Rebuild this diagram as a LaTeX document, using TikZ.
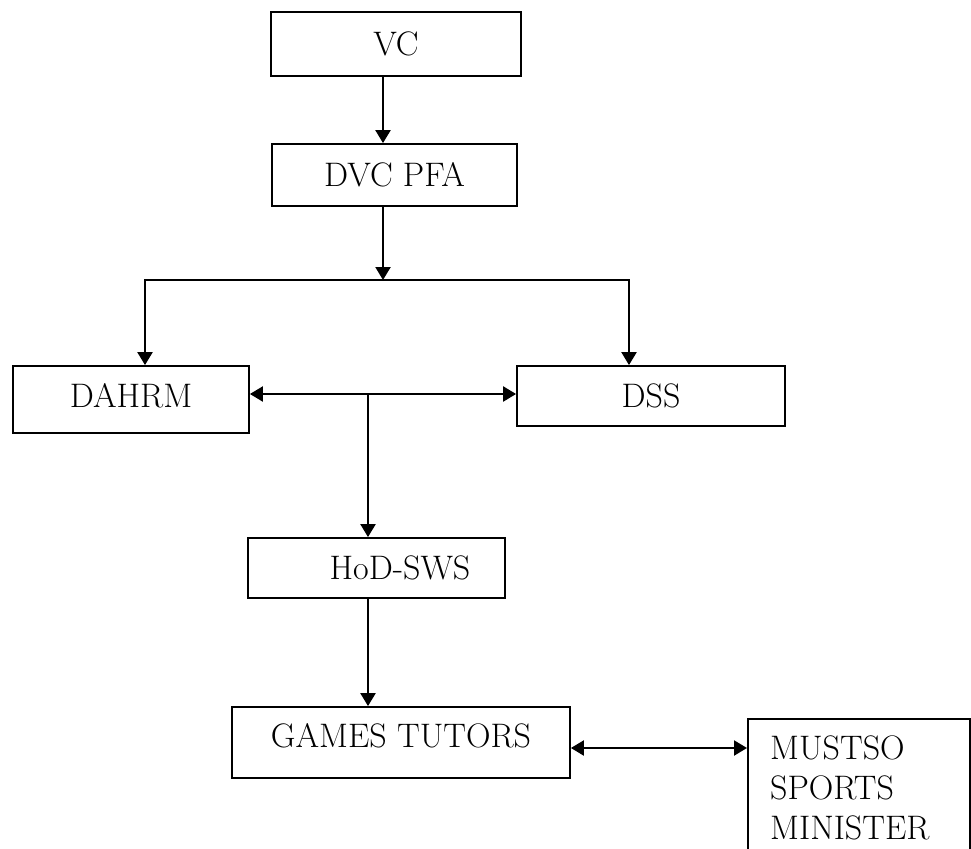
\documentclass[tikz,border=0pt]{standalone}
\usetikzlibrary{arrows.meta}
\begin{document}
\begin{tikzpicture}[x=1pt,y=-1pt,
  box/.style={draw, line width=1.8pt, rectangle, inner sep=0pt, text height=23pt, text depth=0pt,
    font=\fontsize{34}{40}\selectfont},
  arr/.style={-{Triangle[length=13pt,width=15pt]}, line width=2.2pt},
  dbl/.style={{Triangle[length=13pt,width=15pt]}-{Triangle[length=13pt,width=15pt]}, line width=2.2pt}]
\useasboundingbox (0,0) rectangle (971,848);
\node[box, minimum width=250pt, minimum height=64pt] (vc) at (396,44) {VC};
\node[box, minimum width=245pt, minimum height=62pt] (dvc) at (394.5,175) {DVC PFA};
\node[box, minimum width=236pt, minimum height=67pt, text depth=7pt] (dahrm) at (131,399.5) {DAHRM};
\node[box, minimum width=268pt, minimum height=60pt] (dss) at (651,396) {DSS};
\node[box, minimum width=257pt, minimum height=60pt] (hod) at (376.5,568) {\hspace*{47pt}HoD-SWS};
\node[box, minimum width=338pt, minimum height=71pt, text depth=13pt] (games) at (401,742.5) {GAMES TUTORS};
\node[draw, line width=1.8pt, rectangle, inner sep=0pt, minimum width=222pt, minimum height=170pt, anchor=north west] (mustso) at (747,718) {};
\node[anchor=north west, inner sep=0pt, align=left, font=\fontsize{34}{40}\selectfont] (mustsot) at (770,736) {MUSTSO\\SPORTS\\MINISTER};
\coordinate (xa) at (383,0);
\coordinate (j) at (383,280);
\coordinate (xl) at (145,0);
\coordinate (xr) at (629,0);
\coordinate (ym) at (0,394);
\coordinate (m) at (368,394);
\coordinate (yg) at (0,748);
\draw[arr] (xa |- vc.south) -- (xa |- dvc.north);
\draw[arr] (xa |- dvc.south) -- (j);
\draw[arr] (j) -| (xl |- dahrm.north);
\draw[arr] (j) -| (xr |- dss.north);
\draw[dbl] (dahrm.east |- ym) -- (dss.west |- ym);
\draw[arr] (m) -- (m |- hod.north);
\draw[arr] (m |- hod.south) -- (m |- games.north);
\draw[dbl] (games.east |- yg) -- (mustso.west |- yg);
\end{tikzpicture}
\end{document}
